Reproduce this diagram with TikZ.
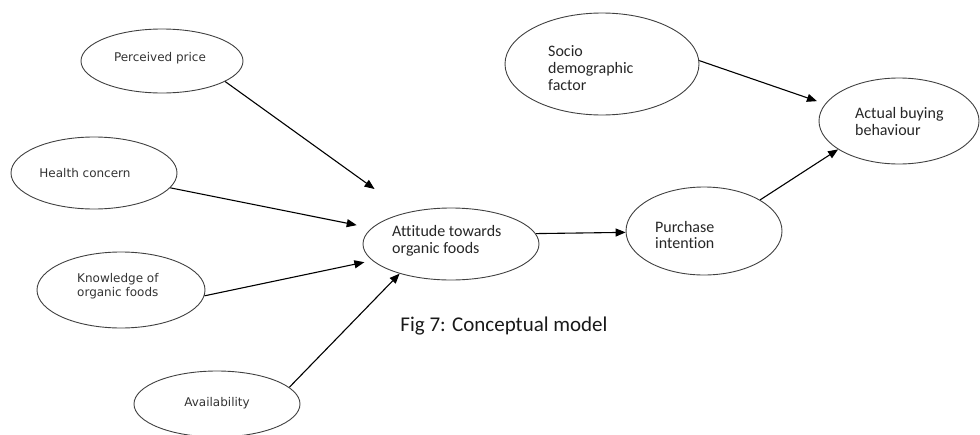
\documentclass[tikz,border=0pt]{standalone}
\usepackage{fontspec}
\setmainfont{Carlito}[Ligatures=NoCommon]
\newfontfamily\vfont{DejaVu Sans}
\usetikzlibrary{arrows.meta,shapes.geometric}
\begin{document}
\begin{tikzpicture}[x=1pt,y=-1pt,
  ell/.style={ellipse,draw=black!75,line width=0.9pt,inner sep=0pt},
  vtxt/.style={font=\vfont\fontsize{12}{14.5}\selectfont,text=black!80,align=left,inner sep=0pt},
  ctxt/.style={font=\fontsize{16}{17}\selectfont,text=black!85,align=left,inner sep=0pt,anchor=west},
  arr/.style={-{Triangle[length=10pt,width=8pt]},line width=1.1pt,black}]
\useasboundingbox (0,0) rectangle (980,434);
% ellipses
\node[ell,minimum width=162pt,minimum height=64pt] (pp) at (162,61) {};
\node[ell,minimum width=166pt,minimum height=72pt] (hc) at (94,173) {};
\node[ell,minimum width=168pt,minimum height=76pt] (kn) at (121,290) {};
\node[ell,minimum width=166pt,minimum height=66pt] (av) at (217,404) {};
\node[ell,minimum width=176pt,minimum height=72pt] (att) at (451,244) {};
\node[ell,minimum width=156pt,minimum height=88pt] (pi) at (704,231) {};
\node[ell,minimum width=160pt,minimum height=86pt] (ab) at (899,121) {};
\node[ell,minimum width=194pt,minimum height=102pt] (sd) at (602,64) {};
% texts
\node[vtxt] (tpp) at (160,58) {Perceived price};
\node[vtxt] (thc) at (85,173) {Health concern};
\node[vtxt,anchor=west] (tkn) at (77,286) {Knowledge of\\organic foods};
\node[vtxt] (tav) at (217,403) {Availability};
\node[ctxt] (tat) at (392,241) {Attitude towards\\organic foods};
\node[ctxt] (tpi) at (655,235) {Purchase\\intention};
\node[ctxt] (tab) at (855,122) {Actual buying\\behaviour};
\node[ctxt] (tsd) at (548,68) {Socio\\demographic\\factor};
\node[font=\fontsize{21}{24}\selectfont,text=black!90,inner sep=0pt] (cap) at (504,326) {Fig 7: Conceptual model};
% arrows
\draw[arr,shorten >=40pt] (pp.-18.4) -- (att);
\draw[arr,shorten >=15pt] (hc.-11) -- (att);
\draw[arr,shorten >=8pt] (kn.-4) -- (att);
\draw[arr] (av.13) -- (att.210);
\draw[arr] (att.7.5) -- (pi.181.5);
\draw[arr,shorten >=8.5pt] (sd.2) -- (ab.167.6);
\draw[arr] (pi.29) -- (ab.205);
\end{tikzpicture}
\end{document}
